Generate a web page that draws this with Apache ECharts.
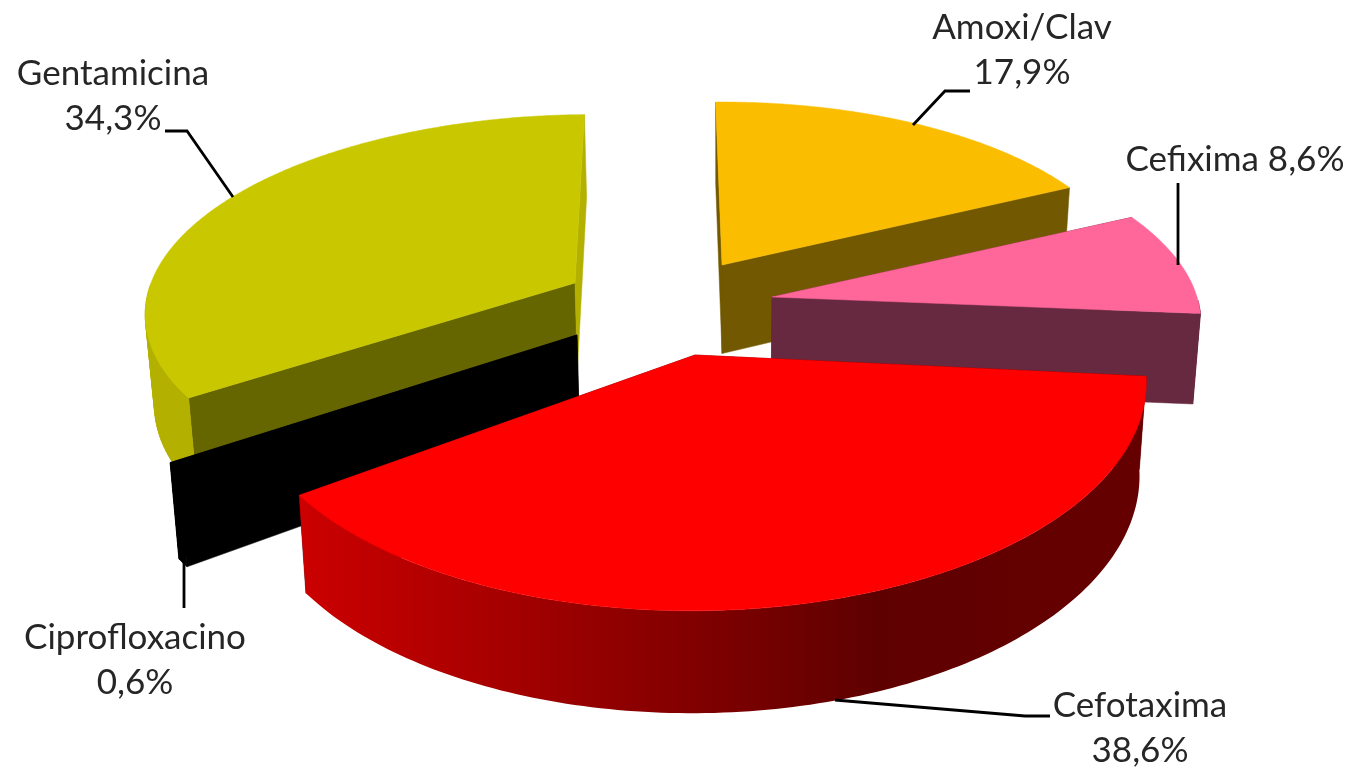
<!DOCTYPE html>
<html>
<head>
<meta charset="utf-8">
<title>Antibióticos</title>
<style>
  html, body { margin: 0; padding: 0; background: #fff; }
  #chart { width: 1355px; height: 771px; }
</style>
<script src="https://cdn.jsdelivr.net/npm/echarts@6/dist/echarts.min.js"></script>
</head>
<body>
<div id="chart"></div>
<script>
// datos, en el orden de las agujas del reloj desde arriba
var categories = ['Amoxi/Clav', 'Cefixima', 'Cefotaxima', 'Ciprofloxacino', 'Gentamicina'];
var values = [17.9, 8.6, 38.6, 0.6, 34.3];
var labelJoins = ['\n', ' ', '\n', '\n', '\n'];

// colores por porcion
var topColors = ['#FBBD00', '#FF6699', '#FF0000', '#000000', '#C9C800'];
var faceColors = ['#725800', '#66293F', '#660000', '#000000', '#666600'];
var wallColors = ['#725800', '#66293F', '#CC0000', '#000000', '#B3B000'];

// geometria de cada porcion: vertice en pantalla, radio, aplastado y giro
var originX = [722, 772, 695, 577, 575];
var originY = [265, 297, 355, 335, 283];
var radii = [409, 425, 448, 445, 424];
var flatten = [0.96, 0.95, 1.015, 0.97, 0.95];
var turn = [0, 0.5, 1, 0, 0];
var paintRank = [1, 3, 5, 4, 2];

// etiquetas y lineas guia
var labelX = [1022, 1235, 1140, 135, 113];
var labelY = [50, 160, 728, 660, 96];
var leaderLines = [
    [[970, 91], [945, 91], [913, 125]],
    [[1178, 183], [1178, 265]],
    [[1050, 716], [1025, 716], [835, 700]],
    [[184, 608], [184, 562]],
    [[165, 131], [187, 131], [233, 197]]
];

// perspectiva
var START_ANGLE = -1;
var VANISH_X = 722;
var HORIZON_Y = -1345;
var PLANE_DEPTH = 3470;
var WALL_HEIGHT = 93;
var WALL_GROW = 0.04;
var WALL_SKEW = 0.016;

function rimPoint(i, deg) {
    var a = (deg + turn[i]) * Math.PI / 180;
    var s = Math.sin(a);
    var u = -Math.cos(a);
    var q = radii[i] / PLANE_DEPTH;
    var den = 1 - q * u;
    return [
        originX[i] + (radii[i] * s + (originX[i] - VANISH_X) * q * u) / den,
        originY[i] + flatten[i] * (originY[i] - HORIZON_Y) * q * u / den
    ];
}

// el mismo punto en la base de la porcion
function lower(p) {
    return [
        p[0] + (VANISH_X - p[0]) * WALL_SKEW,
        p[1] + WALL_HEIGHT + WALL_GROW * (p[1] - 376)
    ];
}

function sliceAngles() {
    var total = values.reduce(function (a, b) { return a + b; }, 0);
    var acc = START_ANGLE;
    return values.map(function (v) {
        var from = acc;
        acc += v / total * 360;
        return [from, acc];
    });
}

function quad(a, b, fill, z) {
    return {
        type: 'polygon',
        z2: z,
        shape: { points: [a, b, lower(b), lower(a)] },
        style: { fill: fill, stroke: fill, lineWidth: 0.5 }
    };
}

var angles = sliceAngles();

function renderSlice(params) {
    var i = params.dataIndex;
    var from = angles[i][0], to = angles[i][1];
    var base = paintRank[i] * 10;
    var apex = [originX[i], originY[i]];
    var children = [];

    // caras radiales
    children.push(quad(apex, rimPoint(i, from), faceColors[i], base));
    children.push(quad(apex, rimPoint(i, to), i === 4 ? wallColors[i] : faceColors[i], base + 1));

    // pared exterior, solo la parte que mira hacia delante
    var rim = [];
    for (var d = from; d < to; d += 1) {
        if (-Math.cos((d + turn[i]) * Math.PI / 180) >= 0) {
            rim.push(rimPoint(i, d));
        }
    }
    if (-Math.cos((to + turn[i]) * Math.PI / 180) >= 0) {
        rim.push(rimPoint(i, to));
    }
    if (rim.length > 1) {
        var wallFill = wallColors[i];
        if (i === 2) {
            wallFill = new echarts.graphic.LinearGradient(300, 0, 1145, 0, [
                { offset: 0, color: '#CC0000' },
                { offset: 0.68, color: '#5F0000' },
                { offset: 1, color: '#660000' }
            ], true);
        } else {
            // cuadrilateros debajo para que la silueta salga convexa
            for (var k = 0; k + 1 < rim.length; k++) {
                children.push(quad(rim[k], rim[k + 1], wallFill, base + 1));
            }
        }
        children.push({
            type: 'polygon',
            z2: base + 2,
            shape: { points: rim.concat(rim.map(lower).reverse()) },
            style: { fill: wallFill }
        });
    }

    // cara superior
    var topPts = [apex];
    for (var t = from; t < to; t += 0.5) {
        topPts.push(rimPoint(i, t));
    }
    topPts.push(rimPoint(i, to));
    children.push({
        type: 'polygon',
        z2: base + 3,
        shape: { points: topPts },
        style: { fill: topColors[i], stroke: topColors[i], lineWidth: 0.5 }
    });

    // linea guia
    children.push({
        type: 'polyline',
        z2: 100,
        shape: { points: leaderLines[i] },
        style: { stroke: '#000', lineWidth: 2.8, fill: null }
    });

    // etiqueta
    children.push({
        type: 'text',
        z2: 101,
        style: {
            x: labelX[i],
            y: labelY[i],
            text: categories[i] + labelJoins[i] + values[i].toFixed(1).replace('.', ',') + '%',
            align: 'center',
            verticalAlign: 'middle',
            fontFamily: 'Lato',
            fontSize: 35,
            lineHeight: 45,
            fill: '#262626'
        }
    });

    return { type: 'group', children: children };
}

var myChart = echarts.init(document.getElementById('chart'));
myChart.setOption({
    backgroundColor: '#FFFFFF',
    animation: false,
    series: [{
        type: 'custom',
        coordinateSystem: 'none',
        silent: true,
        clip: false,
        renderItem: renderSlice,
        data: values
    }]
});
</script>
</body>
</html>
